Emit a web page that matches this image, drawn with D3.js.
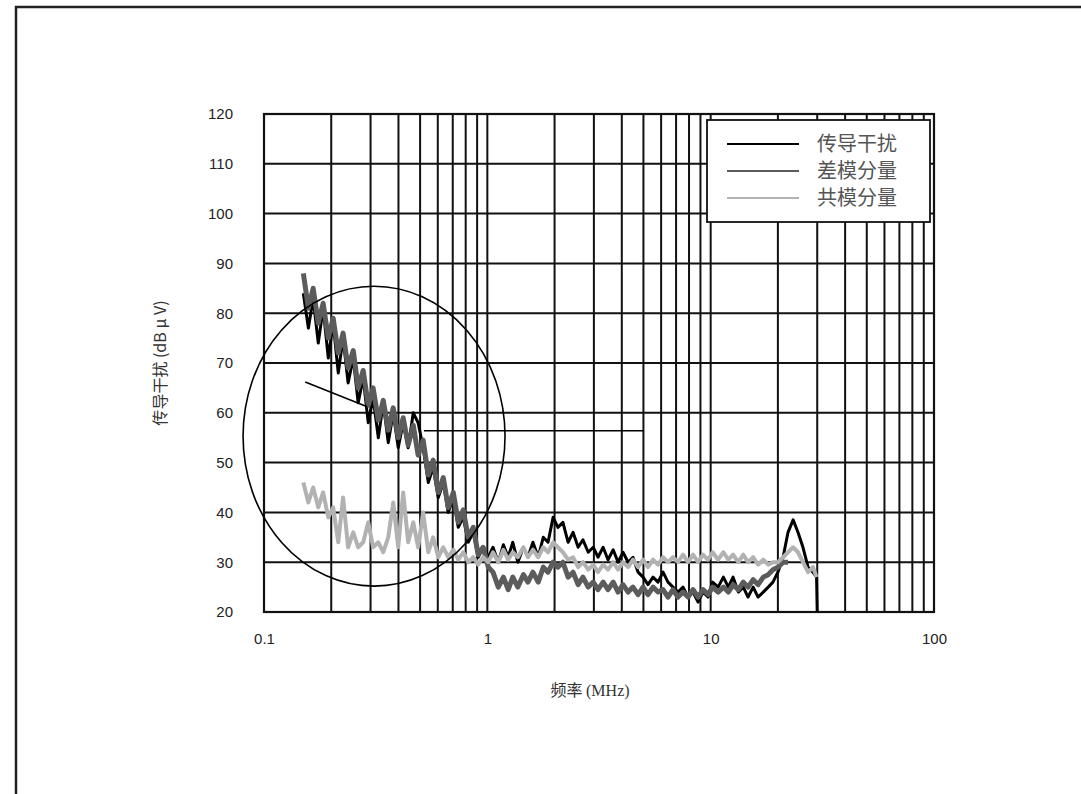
<!DOCTYPE html>
<html><head><meta charset="utf-8">
<script src="https://cdn.jsdelivr.net/npm/d3@7"></script>
<style>
html,body{margin:0;padding:0;background:#fff;}
svg{display:block;}
</style></head>
<body>
<svg id="c" width="1081" height="794"></svg>
<script>
// ---------- data ----------
const freqs = [0.150,0.158,0.166,0.175,0.184,0.194,0.204,0.215,0.226,0.238,0.251,0.264,0.278,0.293,0.308,0.325,0.342,0.360,0.379,0.399,0.420,0.442,0.466,0.490,0.516,0.544,0.572,0.603,0.635,0.668,0.704,0.741,0.780,0.821,0.865,0.910,0.958,1.01,
 1.06,1.12,1.18,1.24,1.30,1.37,1.45,1.52,1.60,1.69,1.78,1.87,1.97,2.07,2.18,2.30,2.42,2.55,2.68,2.83,2.98,3.13,3.30,3.47,3.66,3.85,4.05,4.27,4.49,4.73,4.98,5.24,5.52,5.81,6.12,6.44,6.78,7.14,7.52,7.92,8.34,8.78,9.24,9.73,10.2,10.8,11.4,12.0,12.6,13.3,14.0,14.7,15.5,16.3,17.2,18.1,19.0,20.0,21.1,22.2,23.4,24.6,25.9,27.3,28.7,29.8,30.0];
const conducted = [84,77,83,74,81,71,78,68,75,66,71,62,67,58,63,55,62,54,60,53,58,53,60,58,53,46,49,43,46,40,43,37,39,34,36,31,33,31,
 33,30,33.5,31,34,30,33,31,34,31,35,34,39,37,38,34,36,33,34.5,32,33,31,33,30.5,32.5,30,32,30,31,28,27,25.5,27,26,28,26,25,24,25,23,24,22,24,23,26,25,27,25,27,24,25,23,25,23,24,25,26,28,31,36,38.5,36,33,29,28,27,20];
const diffMode = [88,81,85,78,82,75,79,72,76,69,72.5,65,68.5,61.5,65,58.5,62.5,56.5,61,55,59,53.5,57.5,51.5,54.5,47.5,50.5,44,47,41,44,38,40.5,35,37,31.5,33,29,
 28,25,27,24.5,27,25,27.5,26,28,26,29,28,30,29,30,27,28,25.5,27,25,26,24.5,26,24.5,26,24,25.5,24,25,23.5,25,23.5,25,24,24.5,23,24.5,23,24,23,24.5,23,24.5,23.5,25,24,25,24,25.5,24.5,26,25,26.5,25.5,27,27.5,28.5,29,30,30,null,null,null,null,null,null,null];
const commonMode = [46,42,45,41,44,39,41,34,43,33,36,33,34,38,33,34,32,35,42,33,44,34,38,33,40,32,35,31,33,31,32.5,30.5,32,30,31,29.5,31,30,
 32,30,32.5,30.5,32,31,33,31,32.5,31,33,32,34,33,32,30.5,31,29,30,28.5,29.5,28,29.5,28.5,30,28.5,30,29,30.5,29,30.5,29,30.5,29.5,31,30,31,30,31.5,30,31.5,30,31.5,30.5,32,30.5,32,30.5,31.5,30,31.5,30,31,29.5,30.5,29.5,30,30,31,32,33,32,30,28,29,27,null];
const seriesNames = ["传导干扰","差模分量","共模分量"];
const seriesColors = ["#000000","#5c5c5c","#b2b2b2"];
const yTicks = [20,30,40,50,60,70,80,90,100,110,120];
const xTickLabels = [0.1,1,10,100];
const xTitle = "频率";
const xUnit = "(MHz)";
const yTitle = "传导干扰 (dB μ V)";

// ---------- drawing ----------
const svg = d3.select("#c");
const L=264,R=934,T=114,B=612;
const x = d3.scaleLog().domain([0.1,100]).range([L,R]);
const y = d3.scaleLinear().domain([20,120]).range([B,T]);

// outer frame
svg.append("rect").attr("x",16).attr("y",7).attr("width",1100).attr("height",820)
  .attr("fill","#fff").attr("stroke","#222").attr("stroke-width",2.5);

// grid
const gGrid = svg.append("g").attr("stroke","#111").attr("stroke-width",2);
const vTicks = x.ticks();
gGrid.selectAll("line.v").data(vTicks).join("line")
  .attr("x1",d=>x(d)).attr("x2",d=>x(d)).attr("y1",T).attr("y2",B);
gGrid.selectAll("line.h").data(yTicks).join("line")
  .attr("x1",L).attr("x2",R).attr("y1",d=>y(d)).attr("y2",d=>y(d));
svg.append("rect").attr("x",L).attr("y",T).attr("width",R-L).attr("height",B-T)
  .attr("fill","none").attr("stroke","#111").attr("stroke-width",2.2);

// axes labels
const font = "'Liberation Sans', Arial, sans-serif";
const yAxis = svg.append("g").attr("transform",`translate(${L},0)`)
  .call(d3.axisLeft(y).tickValues(yTicks).tickSize(0).tickPadding(31));
const xAxis = svg.append("g").attr("transform",`translate(0,${B})`)
  .call(d3.axisBottom(x).tickValues(xTickLabels).tickSize(0).tickPadding(21).tickFormat(d=>String(d)));
[yAxis,xAxis].forEach(g=>{
  g.select(".domain").remove();
  g.selectAll("text").attr("font-family",font).attr("font-size",15).attr("fill","#222");
});

// series
const line = d3.line().defined(d=>d[1]!=null).x(d=>x(d[0])).y(d=>y(d[1]));
const allSeries = [conducted, diffMode, commonMode];
const widths = [3,5,4];
allSeries.forEach((vals,i)=>{
  svg.append("path").datum(freqs.map((f,j)=>[f,vals[j]]))
    .attr("d",line).attr("fill","none").attr("stroke",seriesColors[i])
    .attr("stroke-width",widths[i]).attr("stroke-linejoin","round");
});

// annotations: ellipse + pointer lines
const ann = svg.append("g").attr("fill","none").attr("stroke","#000").attr("stroke-width",1.6);
ann.append("ellipse").attr("cx",x(0.311)).attr("cy",y(55.3))
  .attr("rx",(R-L)*0.1955).attr("ry",(B-T)*0.301);
ann.append("line").attr("x1",x(0.153)).attr("y1",y(66.2)).attr("x2",x(0.29)).attr("y2",y(61.2));
ann.append("line").attr("x1",x(0.52)).attr("y1",y(56.4)).attr("x2",x(5)).attr("y2",y(56.4));

// legend
const lg = svg.append("g");
lg.append("rect").attr("x",707).attr("y",120).attr("width",223).attr("height",102)
  .attr("fill","#fff").attr("stroke","#111").attr("stroke-width",1.8);
seriesNames.forEach((n,i)=>{
  const yy = 144 + i*27;
  lg.append("line").attr("x1",727).attr("x2",799).attr("y1",yy).attr("y2",yy)
    .attr("stroke",seriesColors[i]).attr("stroke-width",2);
  lg.append("text").attr("x",817).attr("y",yy+7).text(n)
    .attr("font-family","'Noto Sans CJK SC', sans-serif").attr("font-size",20).attr("fill","#555");
});

// titles
const xt = svg.append("text").attr("x",(L+R)/2-9).attr("y",696).attr("text-anchor","middle")
  .attr("font-size",16).attr("fill","#333");
xt.append("tspan").attr("font-family","'Noto Sans CJK SC', sans-serif").text(xTitle+" ");
xt.append("tspan").attr("font-family","'Liberation Serif', serif").text(xUnit);
svg.append("text").attr("transform",`translate(166,${(T+B)/2}) rotate(-90)`)
  .attr("text-anchor","middle").attr("font-size",16).attr("fill","#333")
  .attr("font-family","'Noto Sans CJK SC', 'Liberation Sans', sans-serif").text(yTitle);
</script>
</body></html>
